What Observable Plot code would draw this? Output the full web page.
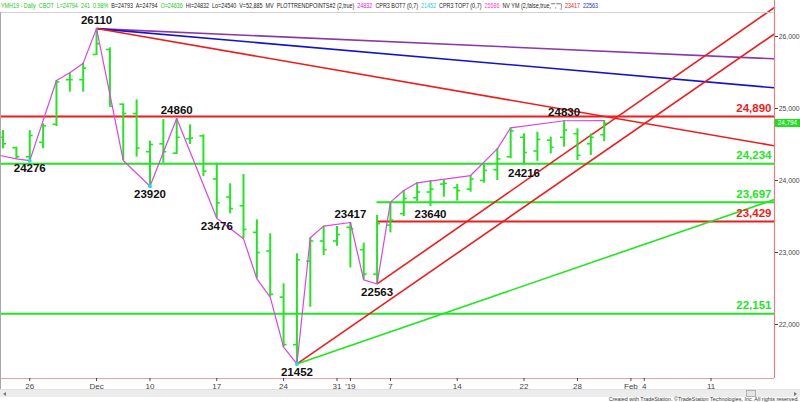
<!DOCTYPE html>
<html><head><meta charset="utf-8">
<script src="https://cdn.jsdelivr.net/npm/d3@7"></script>
<script src="https://cdn.jsdelivr.net/npm/@observablehq/plot@0.6"></script>
<style>
body{margin:0;background:#fff;font-family:Arial,"Liberation Sans",sans-serif;}
#wrap{position:relative;width:800px;height:402px;overflow:hidden;background:#fff;}
#chart{position:absolute;left:0;top:0;}
#hdr{position:absolute;left:1px;top:1px;font-size:7.4px;white-space:pre;transform-origin:0 0;line-height:9px;}
#sep{position:absolute;left:0;top:12px;width:774px;height:1px;background:#d0d0d0;}
#lb{position:absolute;left:0;top:12px;width:1px;height:377px;background:#a8a8a8;}
#scroll{position:absolute;left:0;top:389px;width:800px;height:7px;background:#ececec;border-top:1px solid #e0e0e0;}
#thumb{position:absolute;left:746px;top:0px;width:8px;height:5px;background:#e4e4e4;border:1px solid #b0b0b0;}
#la{position:absolute;left:3px;top:2px;width:0;height:0;border-top:2px solid transparent;border-bottom:2px solid transparent;border-right:3px solid #777;}
#ra{position:absolute;left:794px;top:2px;width:0;height:0;border-top:2px solid transparent;border-bottom:2px solid transparent;border-left:3px solid #777;}
#credit{position:absolute;right:1px;top:396px;font-size:5.4px;color:#333;white-space:nowrap;}
#price{position:absolute;left:775px;width:25px;height:8px;background:#22dd22;color:#fff;font-size:6.3px;line-height:8px;text-align:center;white-space:nowrap;overflow:hidden;}
</style>
</head><body>
<div id="wrap">
  <div id="chart"></div>
  <div id="sep"></div>
  <div id="lb"></div>
  <div id="hdr"></div>
  <div id="scroll"><div id="la"></div><div id="thumb"></div><div id="ra"></div></div>
  <div id="credit">Created with TradeStation. ©TradeStation Technologies, Inc. All rights reserved.</div>
  <div id="price"></div>
</div>
<script>
// ---------- DATA ----------
// trading-day index: 0 = Nov 26, 2018
const barIndex = [-2,-1,0,1,2,3,4,5,6,7,8,9,10,11,12,13,14,15,16,17,18,19,20,21,22,23,24,25,26,27,28,29,30,31,32,33,34,35,36,37,38,39,40,41,42,43];
const opens  = [24600,24455,24330,24530,24780,25400,25400,25750,25820,25060,24930,24400,24510,24380,24580,24620,24020,23770,23650,23280,23020,22380,21720,22880,23160,23160,23350,23040,22700,23380,23540,23760,23840,23950,23900,23880,24000,24150,24330,24600,24410,24560,24600,24650,24510,24636];
const highs  = [24694,24463,24694,24787,25389,25496,25630,26110,25843,25065,25120,24546,24847,24860,24773,24634,24240,23954,24083,23454,23260,22565,22982,23204,23366,23361,23417,23130,23514,23699,23861,23968,24000,24000,23944,24069,24231,24440,24732,24648,24671,24602,24830,24718,24648,24832];
const lows   = [24440,24300,24276,24440,24750,25227,25227,25736,25028,24278,24324,23920,24240,24361,24500,24056,23476,23537,23190,22635,22380,21685,21452,22240,22958,23087,22787,22620,22563,23273,23500,23708,23640,23768,23713,23838,23963,24000,24301,24216,24268,24370,24463,24278,24347,24540];
const closes = [24510,24330,24625,24760,25370,25400,25560,25900,25030,24930,24450,24500,24400,24600,24590,24130,23690,23610,23320,23000,22420,21720,22900,23160,23040,23250,23330,22700,23400,23450,23750,23840,23880,23960,23860,24020,24140,24300,24690,24390,24570,24460,24700,24350,24600,24794];

const tickIndex = [0,5,9,14,19,23,24,27,32,37,41,45,46,51];
const tickLabel = ["26","Dec","10","17","24","31","'19","7","14","22","28","Feb","4","11"];
const yTicks = [22000,23000,24000,25000,26000];

const levelValue = [24890,24234,23697,23429,22151];
const levelFromIndex = [null,null,26,26,null];
const levelKind = ["resistance","support","support","resistance","support"];

const trendFromIndex = [5,5,5,26,20,20];
const trendFromValue = [26110,26110,26110,22563,21452,21452];
const trendEndValue  = [25690,25287,24482,26403,26037,23736];
const trendKind = ["purple","blue","red","red","red","green"];

const zigIndex = [-2.19,-1,0,2,3,4,5,7,9,11,14,16,17,18,19,20,21,22,24,25,26,27,28,29,33,35,36,40,43];
const zigValue = [24347,24300,24276,25389,25496,25630,26110,24278,23920,24860,23476,23190,22635,22380,21685,21452,23204,23366,23417,22620,22563,23699,23861,23968,24069,24440,24732,24830,24832];

const pivotIndex = [5,0,9,11,14,20,24,26,30,37,40];
const pivotValue = [26110,24276,23920,24860,23476,21452,23417,22563,23640,24216,24830];
const pivotType  = ["high","low","low","high","low","low","high","low","low","low","high"];

const cprLowIndex = [0,9,20];
const cprLowValue = [24276,23920,21452];

const headerParts = [
  ["YMH19 - Daily  CBOT  L=24794  241  0.98%","g"],["  B=24793  A=24794  ","k"],["O=24636","g"],
  ["  Hi=24832  Lo=24540  V=52,885  MV  PLOTTRENDPOINTS#2 (2,true)  ","k"],["24832","m"],
  ["  CPR3 BOT7 (0,7)  ","k"],["21452","c"],["  CPR3 TOP7 (0,7)  ","k"],["25586","p"],
  ["  NV YM (2,false,true,\"\",\"\")  ","k"],["23417","r"],["  ","k"],["22563","b"]
];

// ---------- STYLE ----------
const xStart = -2.19, xEnd = 55.75, yMin = 21250, yMax = 26500;
const GREEN = "#22e622", RED = "#ee1c1c";
const kindColor = {resistance: RED, support: GREEN, purple:"#8a3aa8", blue:"#1414cc", red: RED, green: GREEN};
const hdrColor = {g:"#22c822", k:"#222", m:"#e020e0", c:"#20c8e0", p:"#ff40c8", r:"#e82020", b:"#2030d0"};

// ---------- BUILD ----------
const bars = barIndex.map((i,k)=>({i, open:opens[k], high:highs[k], low:lows[k], close:closes[k]}));
const levels = levelValue.map((v,k)=>({v, from: levelFromIndex[k] ?? xStart, kind: levelKind[k]}));
const trends = trendKind.map((c,k)=>({x1:trendFromIndex[k], y1:trendFromValue[k], x2:xEnd, y2:trendEndValue[k], kind:c}));
const zig = zigIndex.map((i,k)=>({i, v:zigValue[k]}));
const pivots = pivotIndex.map((i,k)=>({i, v:pivotValue[k], type:pivotType[k]}));
const cpr = cprLowIndex.map((i,k)=>({i, v:cprLowValue[k]}));

const chart = Plot.plot({
  width: 800, height: 402,
  marginTop: 0, marginRight: 26, marginBottom: 24, marginLeft: 0,
  x: {type: "linear", domain: [xStart, xEnd], axis: null},
  y: {type: "linear", domain: [yMin, yMax], axis: null},
  style: {background: "transparent", fontFamily: "Arial, 'Liberation Sans', sans-serif", overflow: "visible"},
  marks: [
    Plot.ruleY(levels, {y: "v", x1: "from", x2: xEnd, stroke: d => kindColor[d.kind], strokeWidth: 2}),
    Plot.link(trends, {x1: "x1", y1: "y1", x2: "x2", y2: "y2", stroke: d => kindColor[d.kind], strokeWidth: 1.6, clip: true}),
    Plot.ruleX(bars, {x: "i", y1: "low", y2: "high", stroke: GREEN, strokeWidth: 2}),
    Plot.ruleY(bars, {y: "open", x1: d => d.i - 0.26, x2: "i", stroke: GREEN, strokeWidth: 1.6}),
    Plot.ruleY(bars, {y: "close", x1: "i", x2: d => d.i + 0.26, stroke: GREEN, strokeWidth: 1.6}),
    Plot.line(zig, {x: "i", y: "v", stroke: "#dd44e4", strokeWidth: 1.2, clip: true}),
    Plot.dot(cpr, {x: "i", y: "v", r: 2, fill: "#22d8f0", stroke: "none"}),
    Plot.ruleY([yMin], {stroke: "#e8a0a0", strokeWidth: 1.2}),
    Plot.ruleX([xEnd], {stroke: "#e08080", strokeWidth: 1.2}),
    Plot.axisY({anchor: "right", ticks: yTicks, tickFormat: d3.format(","), tickSize: 3, tickPadding: 1.2, fontSize: 6.8, color: "#444", label: null}),
    Plot.axisX({ticks: tickIndex, tickFormat: d => tickLabel[tickIndex.indexOf(d)], tickSize: 3, tickPadding: 1.5, fontSize: 8, color: "#444", label: null}),
    Plot.text(levels, {x: xEnd, y: "v", text: d => d3.format(",")(d.v), textAnchor: "end", dx: -3, dy: -8, fontSize: 11.5, fontWeight: "bold", fill: d => kindColor[d.kind]}),
    Plot.text(pivots.filter(d => d.type === "high"), {x: "i", y: "v", text: d => String(d.v), dy: -8, fontSize: 11.5, fontWeight: "bold", fill: "#111"}),
    Plot.text(pivots.filter(d => d.type === "low"), {x: "i", y: "v", text: d => String(d.v), dy: 8, fontSize: 11.5, fontWeight: "bold", fill: "#111"})
  ]
});
document.getElementById("chart").appendChild(chart);

const hdr = document.getElementById("hdr");
headerParts.forEach(([t,c]) => { const s = document.createElement("span"); s.textContent = t; s.style.color = hdrColor[c]; hdr.appendChild(s); });
const w = hdr.getBoundingClientRect().width;
hdr.style.transform = `scaleX(${597 / w})`;

const last = bars[bars.length - 1];
const py = chart.scale("y").apply(last.close);
const price = document.getElementById("price");
price.textContent = d3.format(",")(last.close);
price.style.top = (py - 3.5) + "px";
</script>
</body></html>
